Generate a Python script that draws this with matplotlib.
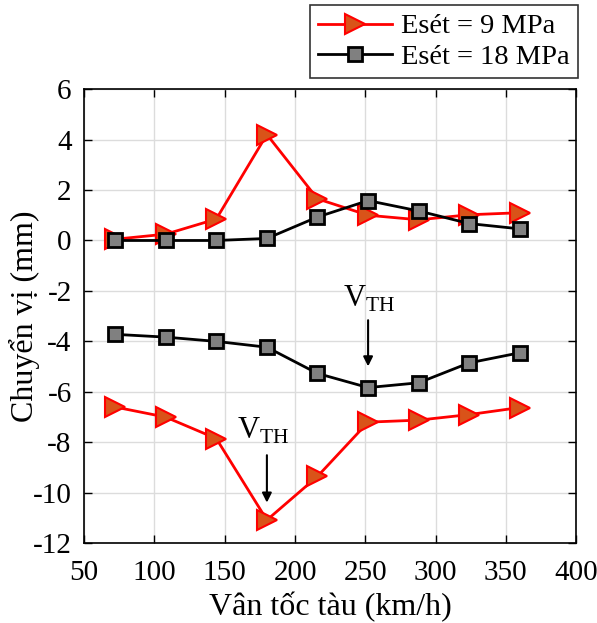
import matplotlib
matplotlib.use('Agg')
import matplotlib.pyplot as plt

# data
speed = [72, 108, 144, 180, 216, 252, 288, 324, 360]
red_up = [0.05, 0.25, 0.85, 4.2, 1.65, 1.0, 0.82, 1.02, 1.1]
red_low = [-6.6, -7.0, -7.85, -11.08, -9.35, -7.2, -7.12, -6.9, -6.62]
blk_up = [0.0, 0.0, 0.0, 0.08, 0.93, 1.58, 1.17, 0.67, 0.46]
blk_low = [-3.72, -3.83, -4.0, -4.23, -5.27, -5.83, -5.64, -4.85, -4.45]

xticks = [50, 100, 150, 200, 250, 300, 350, 400]
yticks = [-12, -10, -8, -6, -4, -2, 0, 2, 4, 6]

plt.rcParams['font.family'] = ['Liberation Serif', 'DejaVu Serif']
plt.rcParams['mathtext.fontset'] = 'custom'
plt.rcParams['mathtext.rm'] = 'Liberation Serif'
plt.rcParams['axes.unicode_minus'] = False

fig = plt.figure(figsize=(5.97, 6.23), dpi=100)
ax = fig.add_axes([0.141, 0.128, 0.824, 0.729])

red_kw = dict(color='#ff0000', lw=2, marker='>', ms=15,
              mfc='#d95319', mec='#ff0000', mew=1.5)
blk_kw = dict(color='black', lw=2, marker='s', ms=10,
              mfc='#808080', mec='black', mew=2)

ax.plot(speed, red_up, label='Esét = 9 MPa', **red_kw)
ax.plot(speed, blk_up, label='Esét = 18 MPa', **blk_kw)
ax.plot(speed, red_low, **red_kw)
ax.plot(speed, blk_low, **blk_kw)

# V_TH annotations
arrow = dict(arrowstyle='-|>', color='black', lw=1.5, mutation_scale=14)
ax.annotate('', xy=(180, -10.5), xytext=(180, -8.4), arrowprops=arrow)
ax.text(177, -8.15, r'$\mathrm{V}_{\mathrm{TH}}$', fontsize=22,
        ha='center', va='bottom')
ax.annotate('', xy=(252, -5.1), xytext=(252, -3.05), arrowprops=arrow)
ax.text(253, -2.9, r'$\mathrm{V}_{\mathrm{TH}}$', fontsize=22,
        ha='center', va='bottom')

ax.set_xlim(50, 400)
ax.set_ylim(-12, 6)
ax.set_xticks(xticks)
ax.set_yticks(yticks)
ax.tick_params(direction='in', top=True, right=True, labelsize=21,
               length=6, width=1)
ax.tick_params(axis='x', pad=12)
ax.tick_params(axis='y', pad=9)
ax.grid(True, color='#dcdcdc', lw=1)
ax.set_axisbelow(True)
for s in ax.spines.values():
    s.set_linewidth(1.2)

ax.set_xlabel('Vân tốc tàu (km/h)', fontsize=23, labelpad=4)
ax.set_ylabel('Chuyển vị (mm)', fontsize=23)
ax.yaxis.set_label_coords(-0.09, 0.5)

leg = fig.legend(loc='upper right', bbox_to_anchor=(578 / 597, 1 - 5 / 623),
                 fontsize=20.5, frameon=True, fancybox=False,
                 edgecolor='black', handlelength=2.6, borderpad=0.3,
                 labelspacing=0.15, handletextpad=0.3, borderaxespad=0)
leg.get_frame().set_linewidth(1.2)

fig.savefig('out.png', dpi=100)
